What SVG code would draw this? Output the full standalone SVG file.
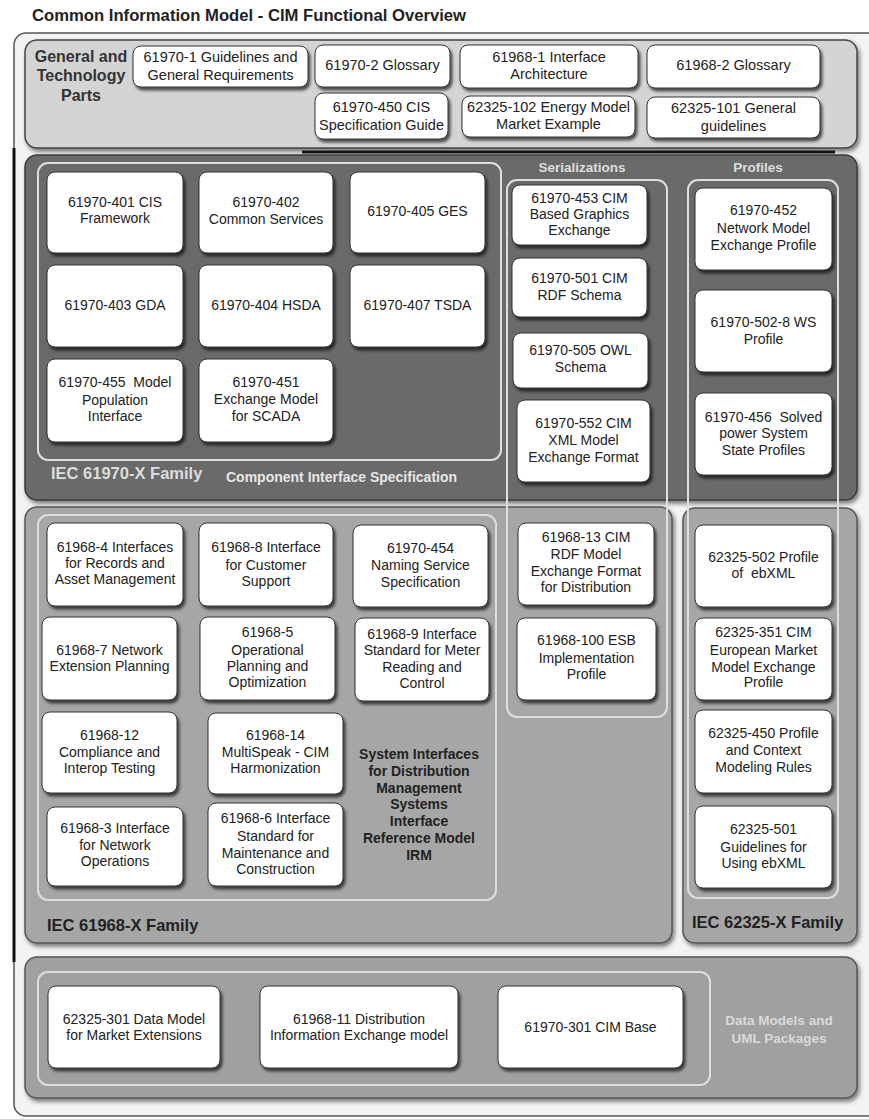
<svg xmlns="http://www.w3.org/2000/svg" width="869" height="1119" viewBox="0 0 869 1119">
<defs>
<filter id="sh" x="-10%" y="-10%" width="130%" height="140%"><feDropShadow dx="2" dy="3" stdDeviation="1.5" flood-color="#000" flood-opacity="0.65"/></filter>
<filter id="psh" x="-5%" y="-5%" width="115%" height="115%"><feDropShadow dx="2" dy="3" stdDeviation="2" flood-color="#000" flood-opacity="0.5"/></filter>
<style>
.box{fill:#fff;stroke:#333;stroke-width:1;filter:url(#sh)}
.t{font-family:"Liberation Sans",Arial,sans-serif;font-size:14px;fill:#222;text-anchor:middle}
.tt{font-family:"Liberation Sans",Arial,sans-serif;font-size:14.5px;fill:#222;text-anchor:middle}
.b{font-family:"Liberation Sans",Arial,sans-serif;font-weight:bold}
.outl{fill:none;stroke:#dedede;stroke-width:2}
.panel{filter:url(#psh)}
</style>
</defs>
<rect x="0" y="0" width="869" height="1119" fill="#fff"/>
<text class="b" x="32" y="21" font-size="16" fill="#222" textLength="434" lengthAdjust="spacingAndGlyphs">Common Information Model - CIM Functional Overview</text>
<!-- outer frame -->
<rect x="14" y="33" width="880" height="1083" rx="12" fill="#f3f3f3" stroke="#555" stroke-width="1.5"/>
<line x1="14" y1="148" x2="14" y2="962" stroke="#111" stroke-width="3"/>
<!-- panels -->
<g id="panel-general"><rect class="panel" x="25" y="40" width="832" height="108" rx="12" fill="#d4d4d4" stroke="#444" stroke-width="1.5"/>
<text class="b" font-size="16" fill="#333" text-anchor="middle"><tspan x="81" y="62">General and</tspan><tspan x="81" y="81">Technology</tspan><tspan x="81" y="101">Parts</tspan></text></g>
<line x1="302" y1="152" x2="835" y2="152" stroke="#111" stroke-width="3"/>
<g id="panel-61970"><rect class="panel" x="25" y="155" width="832" height="345" rx="12" fill="#6b6b6b" stroke="#3a3a3a" stroke-width="1.5"/>
<text class="b" x="51" y="479" font-size="16.5" fill="#dcdcdc">IEC 61970-X Family</text>
<text class="b" x="226" y="482" font-size="14" fill="#e6e6e6">Component Interface Specification</text>
<text class="b" x="582" y="172" font-size="13.5" fill="#dddddd" text-anchor="middle">Serializations</text>
<text class="b" x="758" y="172" font-size="13.5" fill="#dddddd" text-anchor="middle">Profiles</text></g>
<g id="panel-61968"><rect class="panel" x="25" y="507" width="647" height="436" rx="12" fill="#a6a6a6" stroke="#555" stroke-width="1.5"/>
<text class="b" x="47" y="931" font-size="16.5" fill="#222">IEC 61968-X Family</text></g>
<g id="panel-62325"><rect class="panel" x="683" y="508" width="174" height="435" rx="12" fill="#a6a6a6" stroke="#555" stroke-width="1.5"/>
<text class="b" x="692" y="928" font-size="16.5" fill="#222">IEC 62325-X Family</text></g>
<g id="panel-data"><rect class="panel" x="25" y="957" width="832" height="141" rx="12" fill="#a0a0a0" stroke="#555" stroke-width="1.5"/>
<text class="b" font-size="13.5" fill="#dadada" text-anchor="middle"><tspan x="779" y="1025">Data Models and</tspan><tspan x="779" y="1043">UML Packages</tspan></text></g>
<!-- outlines -->
<g id="outlines">
<rect class="outl" x="38" y="163" width="463" height="297" rx="10"/>
<rect class="outl" x="507" y="180" width="160" height="537" rx="10"/>
<rect class="outl" x="688" y="180" width="150" height="718" rx="10"/>
<rect class="outl" x="38" y="515" width="458" height="385" rx="10"/>
<rect class="outl" x="38" y="972" width="672" height="113" rx="10"/>
</g>
<g id="connectors"/>
<!-- general boxes -->
<g id="n61970-1"><rect class="box" x="133" y="46" width="175" height="41" rx="8"/><text class="tt"><tspan x="220.5" y="62">61970-1 Guidelines and</tspan><tspan x="220.5" y="80">General Requirements</tspan></text></g>
<g id="n61970-2"><rect class="box" x="315" y="45" width="135" height="42" rx="8"/><text class="tt" x="382.5" y="70">61970-2 Glossary</text></g>
<g id="n61968-1"><rect class="box" x="460" y="45" width="178" height="43" rx="8"/><text class="tt"><tspan x="549" y="62">61968-1 Interface</tspan><tspan x="549" y="79">Architecture</tspan></text></g>
<g id="n61968-2"><rect class="box" x="647" y="45" width="173" height="43" rx="8"/><text class="tt" x="733.5" y="70">61968-2 Glossary</text></g>
<g id="n61970-450"><rect class="box" x="315" y="93" width="133" height="46" rx="8"/><text class="tt"><tspan x="381.5" y="112">61970-450 CIS</tspan><tspan x="381.5" y="130">Specification Guide</tspan></text></g>
<g id="n62325-102"><rect class="box" x="462" y="96" width="173" height="41" rx="8"/><text class="tt"><tspan x="548.5" y="112">62325-102 Energy Model</tspan><tspan x="548.5" y="129">Market Example</tspan></text></g>
<g id="n62325-101"><rect class="box" x="647" y="97" width="173" height="41" rx="8"/><text class="tt"><tspan x="733.5" y="113">62325-101 General</tspan><tspan x="733.5" y="131">guidelines</tspan></text></g>
<!-- 61970 -->
<g id="n61970-401"><rect class="box" x="47" y="172" width="136" height="81" rx="8"/><text class="t"><tspan x="115" y="207">61970-401 CIS</tspan><tspan x="115" y="223">Framework</tspan></text></g>
<g id="n61970-402"><rect class="box" x="199" y="172" width="134" height="81" rx="8"/><text class="t"><tspan x="266" y="207">61970-402</tspan><tspan x="266" y="224">Common Services</tspan></text></g>
<g id="n61970-405"><rect class="box" x="350" y="172" width="135" height="81" rx="8"/><text class="t" x="417.5" y="216">61970-405 GES</text></g>
<g id="n61970-403"><rect class="box" x="47" y="265" width="136" height="82" rx="8"/><text class="t" x="115" y="310">61970-403 GDA</text></g>
<g id="n61970-404"><rect class="box" x="199" y="265" width="134" height="82" rx="8"/><text class="t" x="266" y="310">61970-404 HSDA</text></g>
<g id="n61970-407"><rect class="box" x="350" y="265" width="135" height="82" rx="8"/><text class="t" x="417.5" y="310">61970-407 TSDA</text></g>
<g id="n61970-455"><rect class="box" x="47" y="359" width="136" height="83" rx="8"/><text class="t" xml:space="preserve"><tspan x="115" y="387">61970-455  Model</tspan><tspan x="115" y="405">Population</tspan><tspan x="115" y="421">Interface</tspan></text></g>
<g id="n61970-451"><rect class="box" x="199" y="359" width="134" height="83" rx="8"/><text class="t"><tspan x="266" y="387">61970-451</tspan><tspan x="266" y="404">Exchange Model</tspan><tspan x="266" y="421">for SCADA</tspan></text></g>
<!-- serializations -->
<g id="n61970-453"><rect class="box" x="512" y="185" width="135" height="60" rx="8"/><text class="t"><tspan x="579.5" y="203">61970-453 CIM</tspan><tspan x="579.5" y="219">Based Graphics</tspan><tspan x="579.5" y="235">Exchange</tspan></text></g>
<g id="n61970-501"><rect class="box" x="512" y="258" width="135" height="59" rx="8"/><text class="t"><tspan x="579.5" y="283">61970-501 CIM</tspan><tspan x="579.5" y="300">RDF Schema</tspan></text></g>
<g id="n61970-505"><rect class="box" x="513" y="333" width="135" height="55" rx="8"/><text class="t"><tspan x="580.5" y="355">61970-505 OWL</tspan><tspan x="580.5" y="372">Schema</tspan></text></g>
<g id="n61970-552"><rect class="box" x="517" y="400" width="133" height="82" rx="8"/><text class="t"><tspan x="583.5" y="428">61970-552 CIM</tspan><tspan x="583.5" y="445">XML Model</tspan><tspan x="583.5" y="462">Exchange Format</tspan></text></g>
<g id="n61968-13"><rect class="box" x="518" y="523" width="136" height="82" rx="8"/><text class="t"><tspan x="586" y="542">61968-13 CIM</tspan><tspan x="586" y="559">RDF Model</tspan><tspan x="586" y="576">Exchange Format</tspan><tspan x="586" y="592">for Distribution</tspan></text></g>
<g id="n61968-100"><rect class="box" x="517" y="618" width="139" height="82" rx="8"/><text class="t"><tspan x="586.5" y="645">61968-100 ESB</tspan><tspan x="586.5" y="663">Implementation</tspan><tspan x="586.5" y="679">Profile</tspan></text></g>
<!-- profiles -->
<g id="n61970-452"><rect class="box" x="695" y="188" width="137" height="82" rx="8"/><text class="t"><tspan x="763.5" y="215">61970-452</tspan><tspan x="763.5" y="233">Network Model</tspan><tspan x="763.5" y="250">Exchange Profile</tspan></text></g>
<g id="n61970-502-8"><rect class="box" x="695" y="290" width="137" height="82" rx="8"/><text class="t"><tspan x="763.5" y="327">61970-502-8 WS</tspan><tspan x="763.5" y="344">Profile</tspan></text></g>
<g id="n61970-456"><rect class="box" x="695" y="393" width="137" height="82" rx="8"/><text class="t" xml:space="preserve"><tspan x="763.5" y="422">61970-456  Solved</tspan><tspan x="763.5" y="438">power System</tspan><tspan x="763.5" y="455">State Profiles</tspan></text></g>
<g id="n62325-502"><rect class="box" x="695" y="525" width="137" height="82" rx="8"/><text class="t" xml:space="preserve"><tspan x="763.5" y="562">62325-502 Profile</tspan><tspan x="763.5" y="578">of  ebXML</tspan></text></g>
<g id="n62325-351"><rect class="box" x="695" y="618" width="137" height="82" rx="8"/><text class="t"><tspan x="763.5" y="637">62325-351 CIM</tspan><tspan x="763.5" y="655">European Market</tspan><tspan x="763.5" y="672">Model Exchange</tspan><tspan x="763.5" y="687">Profile</tspan></text></g>
<g id="n62325-450"><rect class="box" x="695" y="710" width="137" height="83" rx="8"/><text class="t"><tspan x="763.5" y="738">62325-450 Profile</tspan><tspan x="763.5" y="755">and Context</tspan><tspan x="763.5" y="772">Modeling Rules</tspan></text></g>
<g id="n62325-501"><rect class="box" x="695" y="806" width="137" height="82" rx="8"/><text class="t"><tspan x="763.5" y="834">62325-501</tspan><tspan x="763.5" y="852">Guidelines for</tspan><tspan x="763.5" y="868">Using ebXML</tspan></text></g>
<!-- 61968 -->
<g id="n61968-4"><rect class="box" x="47" y="523" width="136" height="83" rx="8"/><text class="t"><tspan x="115" y="552">61968-4 Interfaces</tspan><tspan x="115" y="568">for Records and</tspan><tspan x="115" y="584">Asset Management</tspan></text></g>
<g id="n61968-8"><rect class="box" x="199" y="523" width="134" height="83" rx="8"/><text class="t"><tspan x="266" y="552">61968-8 Interface</tspan><tspan x="266" y="570">for Customer</tspan><tspan x="266" y="586">Support</tspan></text></g>
<g id="n61970-454"><rect class="box" x="353" y="525" width="135" height="82" rx="8"/><text class="t"><tspan x="420.5" y="553">61970-454</tspan><tspan x="420.5" y="570">Naming Service</tspan><tspan x="420.5" y="587">Specification</tspan></text></g>
<g id="n61968-7"><rect class="box" x="42" y="617" width="135" height="83" rx="8"/><text class="t"><tspan x="109.5" y="655">61968-7 Network</tspan><tspan x="109.5" y="671">Extension Planning</tspan></text></g>
<g id="n61968-5"><rect class="box" x="200" y="617" width="135" height="83" rx="8"/><text class="t"><tspan x="267.5" y="637">61968-5</tspan><tspan x="267.5" y="655">Operational</tspan><tspan x="267.5" y="671">Planning and</tspan><tspan x="267.5" y="687">Optimization</tspan></text></g>
<g id="n61968-9"><rect class="box" x="355" y="618" width="134" height="83" rx="8"/><text class="t"><tspan x="422" y="639">61968-9 Interface</tspan><tspan x="422" y="655">Standard for Meter</tspan><tspan x="422" y="672">Reading and</tspan><tspan x="422" y="688">Control</tspan></text></g>
<g id="n61968-12"><rect class="box" x="42" y="712" width="135" height="81" rx="8"/><text class="t"><tspan x="109.5" y="740">61968-12</tspan><tspan x="109.5" y="757">Compliance and</tspan><tspan x="109.5" y="773">Interop Testing</tspan></text></g>
<g id="n61968-14"><rect class="box" x="208" y="713" width="135" height="81" rx="8"/><text class="t"><tspan x="275.5" y="740">61968-14</tspan><tspan x="275.5" y="757">MultiSpeak - CIM</tspan><tspan x="275.5" y="773">Harmonization</tspan></text></g>
<g id="n61968-3"><rect class="box" x="47" y="807" width="136" height="79" rx="8"/><text class="t"><tspan x="115" y="833">61968-3 Interface</tspan><tspan x="115" y="850">for Network</tspan><tspan x="115" y="866">Operations</tspan></text></g>
<g id="n61968-6"><rect class="box" x="208" y="803" width="135" height="83" rx="8"/><text class="t"><tspan x="275.5" y="823">61968-6 Interface</tspan><tspan x="275.5" y="841">Standard for</tspan><tspan x="275.5" y="858">Maintenance and</tspan><tspan x="275.5" y="874">Construction</tspan></text></g>
<g id="irm-label"><text class="b" font-size="14" fill="#222" text-anchor="middle"><tspan x="419" y="759">System Interfaces</tspan><tspan x="419" y="776">for Distribution</tspan><tspan x="419" y="793">Management</tspan><tspan x="419" y="809">Systems</tspan><tspan x="419" y="826">Interface</tspan><tspan x="419" y="843">Reference Model</tspan><tspan x="419" y="860">IRM</tspan></text></g>
<!-- data models -->
<g id="n62325-301"><rect class="box" x="48" y="986" width="172" height="82" rx="8"/><text class="t"><tspan x="134" y="1024">62325-301 Data Model</tspan><tspan x="134" y="1040">for Market Extensions</tspan></text></g>
<g id="n61968-11"><rect class="box" x="260" y="986" width="198" height="82" rx="8"/><text class="t"><tspan x="359" y="1024">61968-11 Distribution</tspan><tspan x="359" y="1040">Information Exchange model</tspan></text></g>
<g id="n61970-301"><rect class="box" x="498" y="986" width="185" height="82" rx="8"/><text class="t" x="590.5" y="1032">61970-301 CIM Base</text></g>
</svg>
